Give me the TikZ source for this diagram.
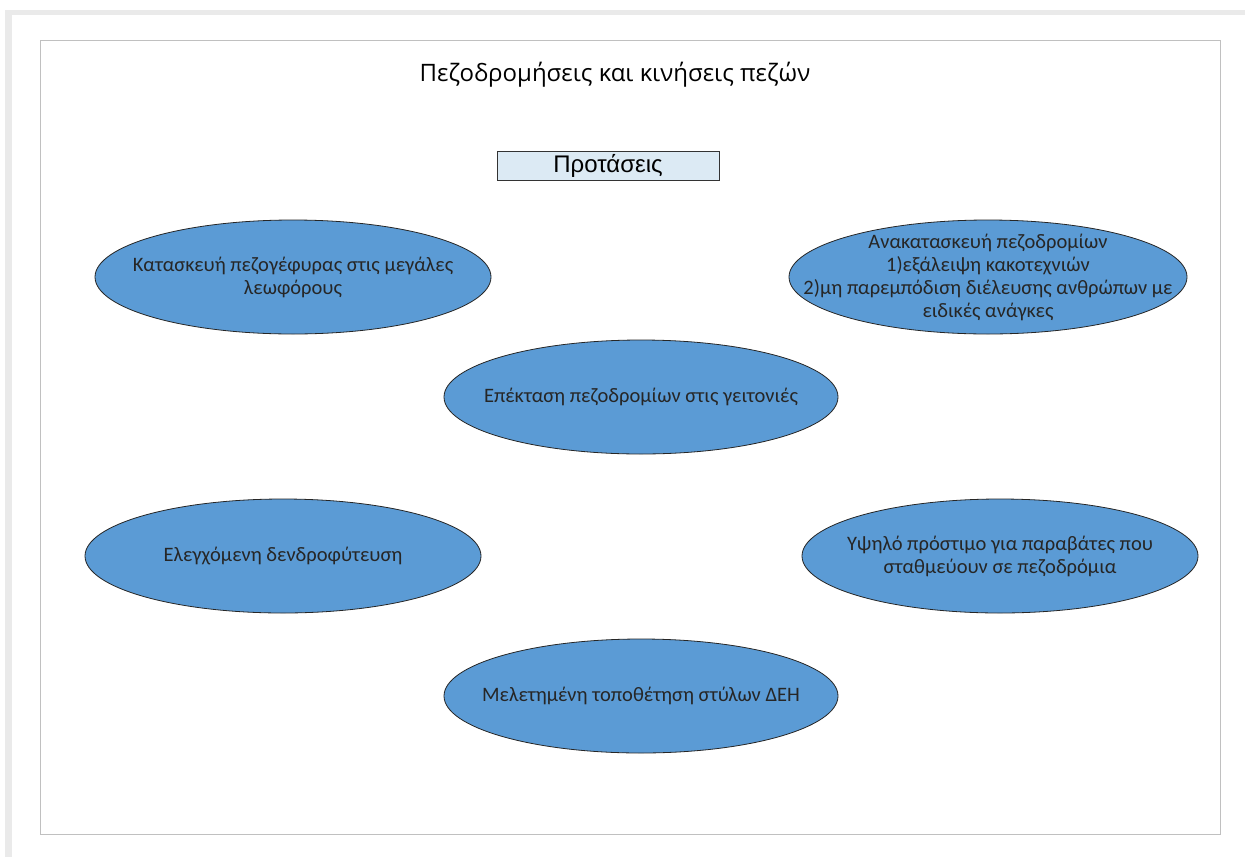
\documentclass[tikz,border=0pt]{standalone}
\usepackage{fontspec}
\setmainfont{Carlito}
\newfontfamily\titlefont{Open Sans}
\newfontfamily\boxfont{Liberation Sans}
\usetikzlibrary{shapes.geometric}
\definecolor{ellfill}{RGB}{91,155,213}
\definecolor{boxfill}{RGB}{220,234,244}
\definecolor{framegray}{RGB}{192,192,192}
\definecolor{shadegray}{RGB}{234,234,234}
\tikzset{
  idea/.style={ellipse, draw=black!85, line width=0.8pt, fill=ellfill,
    minimum width=396pt, minimum height=114pt, inner sep=0pt},
  ideatext/.style={align=center, inner sep=0pt,
    font=\fontsize{20.5}{23}\selectfont, text=black!85},
  headbox/.style={rectangle, draw=black!80, line width=0.8pt, fill=boxfill,
    minimum width=222pt, minimum height=29pt, inner sep=0pt,
    font=\boxfont\fontsize{24}{28}\selectfont},
  titletext/.style={font=\titlefont\fontsize{24}{28}\selectfont, inner sep=0pt}
}
\begin{document}
\begin{tikzpicture}[x=1pt,y=-1pt]
\useasboundingbox (0,0) rectangle (1245,857);
\fill[white] (0,0) rectangle (1245,857);
% page shadow
\fill[shadegray] (5,10) rectangle (1245,15);
\fill[shadegray] (5,10) rectangle (12,857);
% inner frame
\draw[framegray, line width=1pt] (40,40) rectangle (1220,834);
\node[titletext] (title) at (615,75) {Πεζοδρομήσεις και κινήσεις πεζών};
\node[headbox] (prop) at (608,165.5) {Προτάσεις};
\node[idea] (e1) at (293,277) {};
\node[ideatext] (t1) at (e1.center) {Κατασκευή πεζογέφυρας στις μεγάλες\\λεωφόρους};
\node[idea, minimum width=398pt] (e2) at (988,277) {};
\node[ideatext] (t2) at (e2.center) {Ανακατασκευή πεζοδρομίων\\1)εξάλειψη κακοτεχνιών\\2)μη παρεμπόδιση διέλευσης ανθρώπων με\\ειδικές ανάγκες};
\node[idea, minimum width=394pt] (e3) at (641,397) {};
\node[ideatext] (t3) at (e3.center) {Επέκταση πεζοδρομίων στις γειτονιές};
\node[idea] (e4) at (283,556) {};
\node[ideatext] (t4) at (e4.center) {Ελεγχόμενη δενδροφύτευση};
\node[idea] (e5) at (1000,556) {};
\node[ideatext] (t5) at (e5.center) {Υψηλό πρόστιμο για παραβάτες που\\σταθμεύουν σε πεζοδρόμια};
\node[idea, minimum width=394pt] (e6) at (641,696) {};
\node[ideatext] (t6) at (e6.center) {Μελετημένη τοποθέτηση στύλων ΔΕΗ};
\end{tikzpicture}
\end{document}
